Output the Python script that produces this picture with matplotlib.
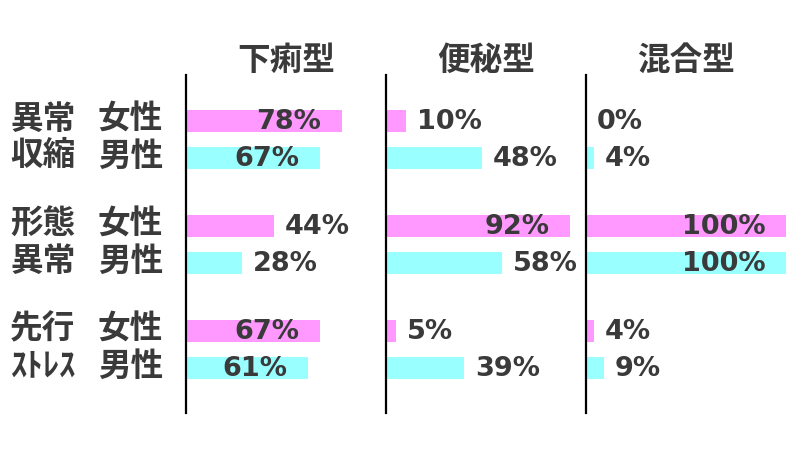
import matplotlib
matplotlib.use("Agg")
import matplotlib.pyplot as plt

plt.rcParams['font.family'] = ['Noto Sans CJK JP', 'DejaVu Sans']

types = ["下痢型", "便秘型", "混合型"]
groups = [("異常", "収縮"), ("形態", "異常"), ("先行", "ｽﾄﾚｽ")]
sexes = ["女性", "男性"]

# values per type: [group][female, male]
diarrhea = [[78, 67], [44, 28], [67, 61]]
constipation = [[10, 48], [92, 58], [5, 39]]
mixed = [[0, 4], [100, 100], [4, 9]]
all_values = [diarrhea, constipation, mixed]

colors = ["#ff99ff", "#99ffff"]
txt = "#3a3a3a"

fig = plt.figure(figsize=(8, 4.5), dpi=100)

def ypos(g, s):
    # pixel-like row centres
    return 121 + g * 105 + s * 37

for i, (name, vals) in enumerate(zip(types, all_values)):
    ax = fig.add_axes([(186 + i * 200) / 800, 1 - 413 / 450, 200 / 800, 338 / 450])
    for g in range(3):
        for s in range(2):
            v = vals[g][s]
            y = ypos(g, s)
            ax.barh(y, v, height=22, color=colors[s], left=0)
            if v > 60:
                ax.annotate(f"{v}%", (v, y + 1), xytext=(-15, 0), textcoords="offset points",
                            ha="right", va="center", fontsize=19.5, fontweight="bold",
                            color=txt, family="DejaVu Sans")
            else:
                ax.annotate(f"{v}%", (v, y + 1), xytext=(8, 0), textcoords="offset points",
                            ha="left", va="center", fontsize=19.5, fontweight="bold",
                            color=txt, family="DejaVu Sans")
    ax.set_xlim(0, 100)
    ax.set_ylim(413, 75)
    for sp in ["top", "right", "bottom"]:
        ax.spines[sp].set_visible(False)
    ax.spines["left"].set_linewidth(1.6)
    ax.spines["left"].set_color("black")
    ax.set_xticks([])
    ax.set_yticks([])
    ax.patch.set_alpha(0)
    fig.text((286 + i * 200) / 800, 1 - 60 / 450, name, ha="center", va="center",
             fontsize=23.5, fontweight="bold", color=txt)

for g in range(3):
    for s in range(2):
        y = 1 - (ypos(g, s) - 2) / 450
        fig.text(10 / 800, y, groups[g][s], ha="left", va="center",
                 fontsize=23.5, fontweight="bold", color=txt)
        fig.text(163 / 800, y, sexes[s], ha="right", va="center",
                 fontsize=23.5, fontweight="bold", color=txt)

fig.savefig("out.png", dpi=100)
